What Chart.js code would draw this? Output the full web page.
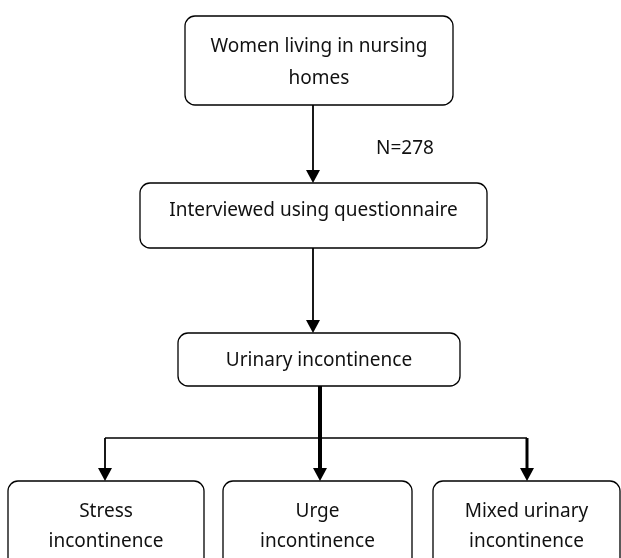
<!DOCTYPE html>
<html>
<head>
<meta charset="utf-8">
<script src="https://cdn.jsdelivr.net/npm/chart.js@4"></script>
<style>
  html, body { margin: 0; padding: 0; background: #fff; }
  #wrap { width: 621px; height: 558px; }
</style>
</head>
<body>
<div id="wrap"><canvas id="flow"></canvas></div>
<script>
// flowchart content
const stepLabels = [
    ["Women living in nursing", "homes"],
    ["Interviewed using questionnaire"],
    ["Urinary incontinence"]
];
const typeLabels = [
    ["Stress", "incontinence"],
    ["Urge", "incontinence"],
    ["Mixed urinary", "incontinence"]
];
const sampleNote = "N=278";

// layout in page units (x 0..621, y 0..558 from the top)
const stepBoxes = [
    {x0: 185, y0: 16, x1: 453, y1: 105, textY: [47, 79]},
    {x0: 140, y0: 183, x1: 487, y1: 248, textY: [211]},
    {x0: 178, y0: 333, x1: 460, y1: 386, textY: [361]}
];
const typeBoxes = [
    {x0: 8, y0: 481, x1: 204, y1: 580, textY: [512, 542]},
    {x0: 223, y0: 481, x1: 412, y1: 580, textY: [512, 542]},
    {x0: 433, y0: 481, x1: 620, y1: 580, textY: [512, 542]}
];
const branchY = 438;
const branchX = [105, 320, 527];
const branchWidth = [1.8, 4, 3];

const FONT = '19px "Noto Sans", sans-serif';

const flowPlugin = {
    id: "flow",
    afterDraw(chart){
        const ctx = chart.ctx;
        const sx = chart.scales.x, sy = chart.scales.y;
        const px = v => sx.getPixelForValue(v);
        const py = v => sy.getPixelForValue(v);

        function box(b, lines){
            const x0 = px(b.x0), x1 = px(b.x1), y0 = py(b.y0), y1 = py(b.y1);
            ctx.save();
            ctx.beginPath();
            ctx.roundRect(x0, y0, x1 - x0, y1 - y0, 10);
            ctx.fillStyle = "#fff";
            ctx.fill();
            ctx.lineWidth = 1.3;
            ctx.strokeStyle = "#000";
            ctx.stroke();
            ctx.fillStyle = "#111";
            ctx.font = FONT;
            ctx.textAlign = "center";
            ctx.textBaseline = "middle";
            lines.forEach((t, i) => ctx.fillText(t, (x0 + x1) / 2, py(b.textY[i])));
            ctx.restore();
        }

        function line(xa, ya, xb, yb, w){
            ctx.save();
            ctx.beginPath();
            ctx.moveTo(px(xa), py(ya));
            ctx.lineTo(px(xb), py(yb));
            ctx.lineWidth = w;
            ctx.strokeStyle = "#000";
            ctx.stroke();
            ctx.restore();
        }

        function arrow(x, ya, yb, w){
            line(x, ya, x, yb - 12, w);
            ctx.save();
            ctx.beginPath();
            ctx.moveTo(px(x) - 7, py(yb) - 13);
            ctx.lineTo(px(x) + 7, py(yb) - 13);
            ctx.lineTo(px(x), py(yb));
            ctx.closePath();
            ctx.fillStyle = "#000";
            ctx.fill();
            ctx.restore();
        }

        // vertical flow
        const cx = 313;
        arrow(cx, stepBoxes[0].y1, stepBoxes[1].y0, 1.8);
        arrow(cx, stepBoxes[1].y1, stepBoxes[2].y0, 1.8);
        line(branchX[1], stepBoxes[2].y1, branchX[1], branchY, branchWidth[1]);

        // branch
        line(branchX[0], branchY, branchX[2], branchY, 1.6);
        branchX.forEach((x, i) => arrow(x, branchY, typeBoxes[i].y0, branchWidth[i]));

        stepBoxes.forEach((b, i) => box(b, stepLabels[i]));
        typeBoxes.forEach((b, i) => box(b, typeLabels[i]));

        ctx.save();
        ctx.fillStyle = "#111";
        ctx.font = FONT;
        ctx.textAlign = "center";
        ctx.textBaseline = "middle";
        ctx.fillText(sampleNote, px(405), py(149));
        ctx.restore();
    }
};

new Chart(document.getElementById("flow"), {
    type: "scatter",
    data: {datasets: []},
    options: {
        responsive: true,
        maintainAspectRatio: false,
        animation: false,
        layout: {padding: 0},
        plugins: {legend: {display: false}, tooltip: {enabled: false}},
        scales: {
            x: {type: "linear", min: 0, max: 621, display: false},
            y: {type: "linear", min: 0, max: 558, reverse: true, display: false}
        }
    },
    plugins: [flowPlugin]
});
</script>
</body>
</html>
